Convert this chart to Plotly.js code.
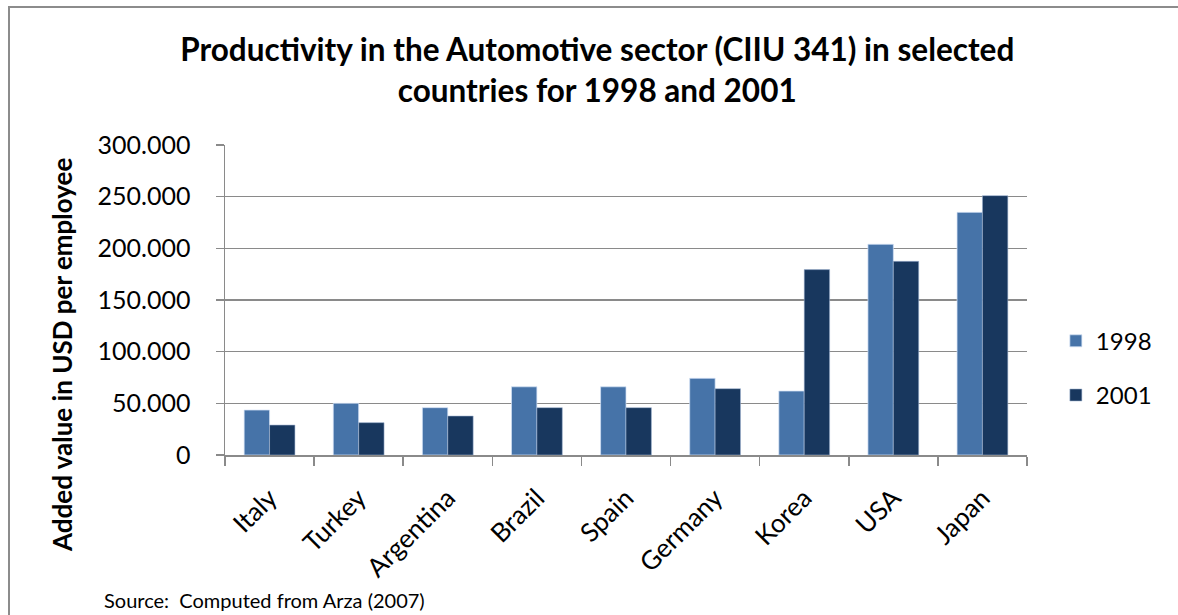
<!DOCTYPE html>
<html>
<head>
<meta charset="utf-8">
<script src="https://cdn.plot.ly/plotly-3.0.1.min.js"></script>
<style>
  html, body { margin: 0; padding: 0; background: #fff; }
  #wrap { position: relative; width: 1178px; height: 615px; overflow: hidden; }
  #chart { position: absolute; left: 0; top: 0; width: 1178px; height: 615px; }
  #frame { position: absolute; left: 8px; top: 6px; width: 1200px; height: 700px;
           border: 2px solid #8c8c8c; pointer-events: none; box-sizing: border-box; }
</style>
</head>
<body>
<div id="wrap">
  <div id="chart"></div>
  <div id="frame"></div>
</div>
<script>
const countries = ["Italy", "Turkey", "Argentina", "Brazil", "Spain", "Germany", "Korea", "USA", "Japan"];
const values1998 = [43500, 50000, 45800, 66000, 66000, 74200, 61900, 203900, 234800];
const values2001 = [29000, 31300, 37700, 45800, 45800, 64200, 179400, 187400, 251000];
const seriesNames = ["1998", "2001"];
const yTicks = [0, 50000, 100000, 150000, 200000, 250000, 300000];

const FONT = "Lato, 'Open Sans', sans-serif";

const traces = [
  {
    type: "bar", name: seriesNames[0], x: countries, y: values1998,
    marker: { color: "#4673A8", line: { color: "rgba(210,225,245,0.9)", width: 0.8 } },
    legendgroup: "a", hoverinfo: "x+y"
  },
  {
    type: "bar", name: seriesNames[1], x: countries, y: values2001,
    marker: { color: "#18375E", line: { color: "rgba(160,180,210,0.7)", width: 0.8 } },
    legendgroup: "b", hoverinfo: "x+y"
  }
];

const gridColor = "#8a8a8a";
const plotTop = 145, plotBottom = 455;
const pxToPaperY = (py) => (plotBottom - py) / (plotBottom - plotTop);

const layout = {
  width: 1178, height: 615,
  margin: { l: 225, r: 151, t: plotTop, b: 615 - plotBottom },
  paper_bgcolor: "#ffffff", plot_bgcolor: "#ffffff",
  separators: ",.",
  font: { family: FONT, color: "#000000", size: 22 },
  title: {
    text: "<b>Productivity in the Automotive sector (CIIU 341) in selected<br>countries for 1998 and 2001</b>",
    font: { family: FONT, size: 31.5, color: "#000000" },
    x: 0.507, xanchor: "center", xref: "container",
    y: 1 - 61 / 615, yanchor: "top", yref: "container"
  },
  barmode: "group",
  bargap: 0.43, bargroupgap: 0,
  xaxis: {
    type: "category",
    tickangle: -45,
    tickfont: { family: FONT, size: 26, color: "#000" },
    ticklabelstandoff: 16,
    showline: true, linecolor: gridColor, linewidth: 1.5,
    ticks: "outside", ticklen: 9, tickcolor: gridColor, tickwidth: 1.5,
    tickson: "boundaries",
    showgrid: false, zeroline: false
  },
  yaxis: {
    range: [0, 300000],
    tickvals: yTicks,
    tickformat: ",d",
    tickfont: { family: FONT, size: 25, color: "#000" },
    ticklabelstandoff: 20,
    showline: true, linecolor: gridColor, linewidth: 1.5,
    ticks: "outside", ticklen: 8, tickcolor: gridColor, tickwidth: 1.5,
    showgrid: true, gridcolor: gridColor, gridwidth: 1.5,
    zeroline: false
  },
  legend: {
    x: 1.036, xanchor: "left", y: 0.28, yanchor: "middle",
    font: { family: FONT, size: 24, color: "#000" },
    traceorder: "grouped", tracegroupgap: 20,
    itemwidth: 30, bgcolor: "rgba(0,0,0,0)"
  },
  showlegend: true,
  annotations: [
    {
      text: "<b>Added value in USD per employee</b>",
      textangle: -90,
      xref: "paper", yref: "paper",
      x: (62 - 225) / 802, xanchor: "center",
      y: pxToPaperY(355), yanchor: "middle",
      showarrow: false,
      font: { family: FONT, size: 26, color: "#000" }
    },
    {
      text: "Source:  Computed from Arza (2007)",
      xref: "paper", yref: "paper",
      x: -0.153, xanchor: "left",
      y: pxToPaperY(600), yanchor: "middle",
      showarrow: false,
      font: { family: FONT, size: 20, color: "#000" }
    }
  ]
};

Plotly.newPlot("chart", traces, layout, { displayModeBar: false, staticPlot: true });
</script>
</body>
</html>
